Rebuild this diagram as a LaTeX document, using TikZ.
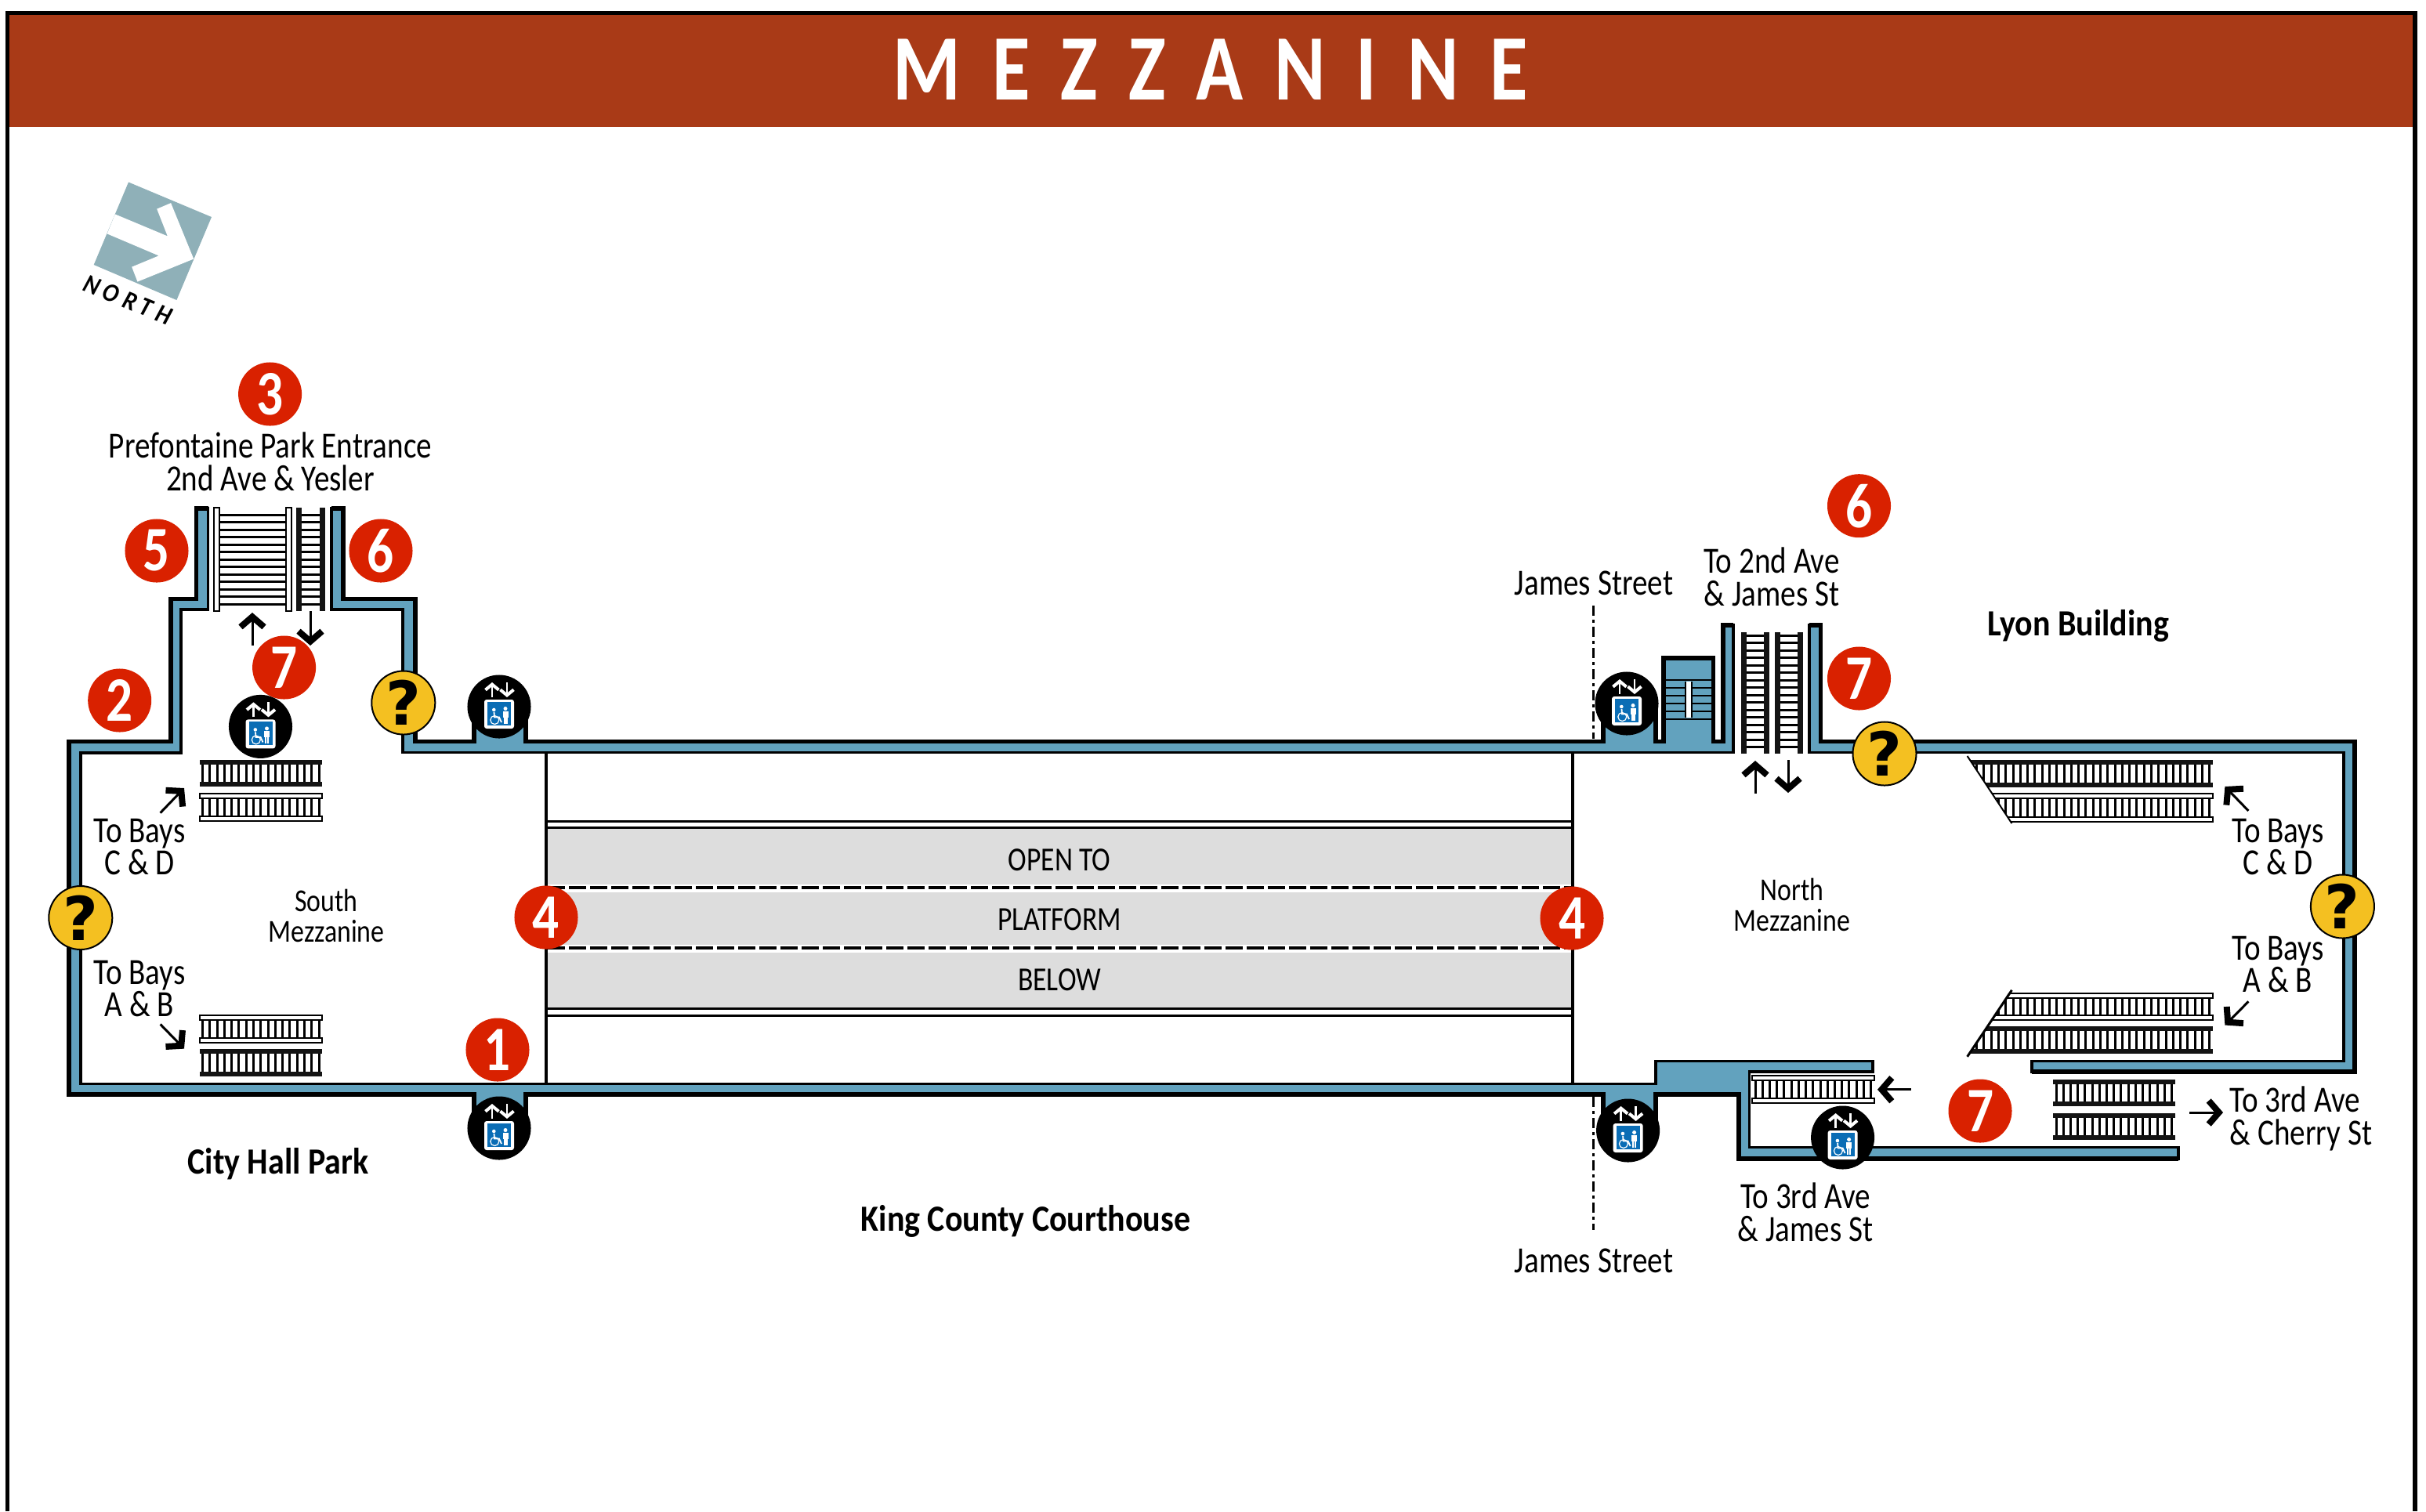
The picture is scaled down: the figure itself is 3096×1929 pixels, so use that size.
\documentclass[tikz,border=0pt]{standalone}
\usepackage{fontspec}
\usetikzlibrary{arrows.meta}
\setmainfont[FakeStretch=0.83]{Carlito}
\newfontfamily\helpfont{DejaVu Sans}
\newfontfamily\widefont[FakeStretch=0.89]{Carlito}

\definecolor{headred}{HTML}{A93A17}
\definecolor{wallblue}{HTML}{62A2BE}
\definecolor{dotred}{HTML}{D92100}
\definecolor{helpyellow}{HTML}{F4C021}
\definecolor{signblue}{HTML}{0A6DB5}
\definecolor{northgray}{HTML}{8FB0B8}
\definecolor{voidgray}{HTML}{DDDDDD}

\tikzset{
    label/.style={inner sep=0pt,align=center,font=\fontsize{13.4}{11.9}\selectfont},
    labelsmall/.style={inner sep=0pt,align=center,font=\fontsize{11.6}{11.3}\selectfont},
    labelcaps/.style={inner sep=0pt,align=center,font=\fontsize{12.2}{12.2}\selectfont},
    labelbold/.style={inner sep=0pt,align=center,font=\widefont\fontsize{13.4}{11.9}\selectfont\bfseries},
    numdot/.style={circle,fill=dotred,text=white,inner sep=0pt,minimum size=0.81cm,font=\fontsize{23}{23}\selectfont\bfseries},
    helpdot/.style={circle,draw=black,line width=0.02cm,fill=helpyellow,inner sep=0pt,minimum size=0.81cm,font=\helpfont\fontsize{22}{22}\selectfont\bfseries},
    liftdot/.style={circle,fill=black,inner sep=0pt,minimum size=0.81cm},
    wallband/.style={draw=black,line width=0.035cm,fill=wallblue,line join=miter},
    wallout/.style={draw=black,line width=0.055cm,line join=miter},
    thinline/.style={draw=black,line width=0.03cm},
    heavyline/.style={draw=black,line width=0.04cm},
    railsolid/.style={fill=black!92,draw=none},
    railhollow/.style={fill=white,draw=black,line width=0.02cm},
    rung/.style={draw=black,line width=0.03cm},
    walkarrow/.style={draw=black,line width=0.03cm,-{Straight Barb[length=0.13cm,width=0.3cm,line width=0.08cm]}},
    liftarrow/.style={draw=white,line width=0.027cm,-{Straight Barb[length=0.07cm,width=0.17cm,line width=0.04cm]}},
    streetline/.style={draw=black,line width=0.025cm,dash pattern=on 0.13cm off 0.05cm on 0.04cm off 0.05cm},
}

% horizontal run: x1, x2, y of upper rail, y of lower rail, rail style, rungs
\newcommand{\runh}[6]{
    \pgfmathsetmacro{\stepx}{(#2-#1-8)/#6}
    \foreach \k in {0,...,#6} {
        \draw[rung] ({#1+4+\k*\stepx},#3) -- ({#1+4+\k*\stepx},#4);
    }
    \path[#5] (#1,#3-3) rectangle (#2,#3+3);
    \path[#5] (#1,#4-3) rectangle (#2,#4+3);
}
% vertical run: y1, y2, x of left rail, x of right rail, rail style, first rung, rungs
\newcommand{\runv}[7]{
    \foreach \k in {0,...,#7} {
        \draw[rung] (#3,{#6+\k*9.5}) -- (#4,{#6+\k*9.5});
    }
    \path[#5] (#3-3.5,#1) rectangle (#3+3.5,#2);
    \path[#5] (#4-3.5,#1) rectangle (#4+3.5,#2);
}
% lift sign: node name, x, y
\newcommand{\liftsign}[3]{
    \node[liftdot] (#1) at (#2,#3) {};
    \begin{scope}[shift={(#2,#3)}]
        \draw[liftarrow] (-9,-12) -- (-9,-31);
        \draw[liftarrow] (10,-31) -- (10,-12);
        \fill[white,rounded corners=0.03cm] (-19,-9) rectangle (19,28);
        \fill[signblue] (-15,-6) rectangle (15,24);
        \fill[white] (-6.7,4) circle (2.3);
        \draw[white,line width=0.012cm] (-5.7,17) circle (5.5);
        \draw[white,line width=0.018cm] (-6.5,7) -- (-6,13.5) -- (0,13.5) -- (3,20);
        \fill[white] (8,2.5) circle (2.5);
        \fill[white] (4.5,5.5) rectangle (11.5,14);
        \fill[white] (5.5,14) rectangle (7.6,22);
        \fill[white] (8.4,14) rectangle (10.5,22);
    \end{scope}
}

\begin{document}
\begin{tikzpicture}[x=0.01cm,y=-0.01cm]

    \useasboundingbox (0,0) rectangle (3096,1929);

    % frame and title
    \fill[headred] (12,19) rectangle (3080,162);
    \draw[wallout] (9.5,1929) -- (9.5,16.5) -- (3082,16.5) -- (3082,1929);
    \node[inner sep=0pt,text=white,font=\fontsize{34}{34}\selectfont\bfseries\addfontfeature{LetterSpace=33}] (title) at (1545,89) {MEZZANINE};

    % north sign
    \fill[northgray] (164,232.5) -- (270,277) -- (225.4,383) -- (119.7,338) -- cycle;
    \fill[white] (146.9,273.4) -- (213.8,301.4) -- (200.2,266.7) -- (218.1,259.1) -- (247.2,330.5)
        -- (175.5,359.6) -- (168.2,340.7) -- (202.6,326.4) -- (136.7,298.4) -- cycle;
    \node[inner sep=0pt,rotate=-22,font=\widefont\fontsize{9.5}{9.5}\selectfont\bfseries\itshape\addfontfeature{LetterSpace=22}] (north) at (163,383) {NORTH};

    % open to platform
    \fill[voidgray] (699,1057) rectangle (2005,1286);
    \draw[thinline] (697,1048) -- (2007,1048);
    \draw[thinline] (697,1056) -- (2007,1056);
    \draw[thinline] (697,1287.5) -- (2007,1287.5);
    \draw[thinline] (697,1296) -- (2007,1296);
    \fill[white] (699,1129) rectangle (2005,1139);
    \fill[white] (699,1206) rectangle (2005,1216);
    \draw[line width=0.033cm,dash pattern=on 0.22cm off 0.05cm] (699,1133) -- (2005,1133);
    \draw[line width=0.033cm,dash pattern=on 0.22cm off 0.05cm] (699,1210) -- (2005,1210);
    \draw[heavyline] (697,961) -- (697,1383);
    \draw[heavyline] (2007,961) -- (2007,1383);

    % walls
    \path[wallband] (265.5,649) -- (250.5,649) -- (250.5,764.5) -- (218,764.5) -- (218,946.5) -- (88,946.5) -- (88,1397)
        -- (605,1397) -- (605,1440) -- (671,1440) -- (671,1397) -- (2046,1397) -- (2046,1443) -- (2113,1443) -- (2113,1397)
        -- (2219,1397) -- (2219,1479) -- (2780,1479) -- (2780,1464.5) -- (2232.5,1464.5) -- (2232.5,1368) -- (2390,1368)
        -- (2390,1354.5) -- (2113,1354.5) -- (2113,1383.5) -- (103,1383.5) -- (103,961) -- (231,961) -- (231,778)
        -- (265.5,778) -- cycle;
    \draw[wallout] (265.5,649) -- (250.5,649) -- (250.5,764.5) -- (218,764.5) -- (218,946.5) -- (88,946.5) -- (88,1397)
        -- (605,1397) -- (605,1440) -- (671,1440) -- (671,1397) -- (2046,1397) -- (2046,1443) -- (2113,1443) -- (2113,1397)
        -- (2219,1397) -- (2219,1479) -- (2780,1479);
    \path[wallband] (423,649) -- (438,649) -- (438,764.5) -- (530,764.5) -- (530,946.5) -- (605,946.5) -- (605,900)
        -- (671,900) -- (671,946.5) -- (2046,946.5) -- (2046,900) -- (2113,900) -- (2113,946.5) -- (2123,946.5)
        -- (2123,840) -- (2186.5,840) -- (2186.5,946.5) -- (2199,946.5) -- (2199,798) -- (2212,798) -- (2212,960.5)
        -- (514,960.5) -- (514,778) -- (423,778) -- cycle;
    \draw[wallout] (423,649) -- (438,649) -- (438,764.5) -- (530,764.5) -- (530,946.5) -- (605,946.5) -- (605,900)
        -- (671,900) -- (671,946.5) -- (2046,946.5) -- (2046,900) -- (2113,900) -- (2113,946.5) -- (2123,946.5)
        -- (2123,840) -- (2186.5,840) -- (2186.5,946.5) -- (2199,946.5) -- (2199,798) -- (2212,798);
    \path[wallband] (2309,798) -- (2323.5,798) -- (2323.5,946.5) -- (3005,946.5) -- (3005,1368) -- (2593,1368)
        -- (2593,1354.5) -- (2991,1354.5) -- (2991,960.5) -- (2309,960.5) -- cycle;
    \draw[wallout] (2309,798) -- (2323.5,798) -- (2323.5,946.5) -- (3005,946.5) -- (3005,1368) -- (2593,1368);

    % stair box beside the north lift
    \foreach \yy in {868,878,888,898,908,918} {
        \draw[line width=0.028cm] (2125,\yy) -- (2185,\yy);
    }
    \fill[white] (2151,870) rectangle (2159,916);
    \draw[line width=0.022cm] (2151,870) -- (2151,916);
    \draw[line width=0.022cm] (2159,870) -- (2159,916);

    % stairs and escalators
    \runv{648}{779.5}{276.5}{368}{railhollow}{657}{12}
    \runv{648}{779.5}{381.7}{411.7}{railsolid}{657}{12}
    \runv{807}{962}{2225}{2254}{railsolid}{811}{15}
    \runv{807}{962}{2268}{2297}{railsolid}{811}{15}
    \runh{254.5}{411}{972.6}{1001.2}{railsolid}{16}
    \runh{254.5}{411}{1016}{1045}{railhollow}{16}
    \runh{254.5}{411}{1298.8}{1328.3}{railhollow}{16}
    \runh{254.5}{411}{1341.8}{1370.5}{railsolid}{16}
    \runh{2620}{2775.5}{1380.5}{1409}{railsolid}{16}
    \runh{2620}{2775.5}{1424}{1452}{railsolid}{16}
    \runh{2236}{2391.6}{1375.7}{1404.7}{railhollow}{16}
    \begin{scope}
        \clip (2510.6,965) -- (2567.4,1051) -- (2826,1051) -- (2826,965) -- cycle;
        \runh{2500}{2823.7}{973}{1002}{railsolid}{34}
        \runh{2500}{2823.7}{1015.6}{1045.5}{railhollow}{34}
    \end{scope}
    \begin{scope}
        \clip (2567.4,1263.8) -- (2510.6,1348.8) -- (2826,1348.8) -- (2826,1263.8) -- cycle;
        \runh{2500}{2823.7}{1270.6}{1298.7}{railhollow}{34}
        \runh{2500}{2823.7}{1313}{1341.8}{railsolid}{34}
    \end{scope}
    \draw[line width=0.02cm] (2510.6,965) -- (2567.4,1051);
    \draw[line width=0.03cm] (2567.4,1263.8) -- (2510.6,1348.8);

    % arrows
    \draw[walkarrow] (322,824) -- (322,782);
    \draw[walkarrow] (396,780) -- (396,824);
    \draw[walkarrow] (2240,1013) -- (2240,971);
    \draw[walkarrow] (2282,970) -- (2282,1012);
    \draw[walkarrow] (204.6,1037.6) -- (235,1006);
    \draw[walkarrow] (204.6,1307.4) -- (235,1338.6);
    \draw[walkarrow] (2869.4,1035) -- (2839.4,1004);
    \draw[walkarrow] (2869.4,1278.4) -- (2839.4,1308.5);
    \draw[walkarrow] (2794,1420) -- (2837,1420);
    \draw[walkarrow] (2438.8,1390.7) -- (2396,1390.7);

    % james street
    \draw[streetline] (2033.5,773) -- (2033.5,943);
    \draw[streetline] (2033.5,1400) -- (2033.5,1570);

    % lifts
    \liftsign{liftstair}{332.5}{927.4}
    \liftsign{lifttop}{637}{902}
    \liftsign{liftbottom}{637}{1440}
    \liftsign{liftjames}{2076}{898}
    \liftsign{liftjamesb}{2077.6}{1443}
    \liftsign{liftthird}{2351.6}{1452}

    % info points
    \node[helpdot] (helpstair) at (514.8,897) {?};
    \node[helpdot] (helpwest) at (102.8,1171.5) {?};
    \node[helpdot] (helpnorth) at (2405,962) {?};
    \node[helpdot] (helpeast) at (2989.4,1157) {?};

    % numbers
    \node[numdot] (one) at (635,1340) {1};
    \node[numdot] (two) at (152.7,894) {2};
    \node[numdot] (three) at (344.6,503) {3};
    \node[numdot] (fourw) at (697,1171) {4};
    \node[numdot] (foure) at (2006,1172) {4};
    \node[numdot] (five) at (200,703) {5};
    \node[numdot] (sixw) at (486,703) {6};
    \node[numdot] (sixe) at (2372.5,645.7) {6};
    \node[numdot] (sevenw) at (362.6,852) {7};
    \node[numdot] (sevene) at (2372.5,866) {7};
    \node[numdot] (sevens) at (2527,1418) {7};

    % labels
    \node[label] (prefontaine) at (345,589) {Prefontaine Park Entrance\\2nd Ave \& Yesler};
    \node[label] (baysw) at (178,1081) {To Bays\\C \& D};
    \node[label] (baysab) at (178,1262) {To Bays\\A \& B};
    \node[labelsmall] (southmezz) at (416.6,1169) {South\\Mezzanine};
    \node[labelbold] (cityhall) at (355,1486) {City Hall Park};
    \node[labelbold] (courthouse) at (1309,1559) {King County Courthouse};
    \node[label] (jamesup) at (2034,744) {James Street};
    \node[label] (jamesdown) at (2034,1609) {James Street};
    \node[label] (secondave) at (2261,736) {To 2nd Ave\\\& James St};
    \node[labelbold] (lyon) at (2652,799) {Lyon Building};
    \node[labelsmall] (northmezz) at (2287,1155) {North\\Mezzanine};
    \node[label] (bayse) at (2907,1081) {To Bays\\C \& D};
    \node[label] (baysabe) at (2907,1231) {To Bays\\A \& B};
    \node[label,align=left,anchor=west] (cherry) at (2845,1428) {To 3rd Ave\\\& Cherry St};
    \node[label] (thirdjames) at (2304,1547) {To 3rd Ave\\\& James St};
    \node[labelcaps] (opento) at (1352,1098) {OPEN TO};
    \node[labelcaps] (platform) at (1352,1174) {PLATFORM};
    \node[labelcaps] (below) at (1352,1251) {BELOW};

\end{tikzpicture}
\end{document}
